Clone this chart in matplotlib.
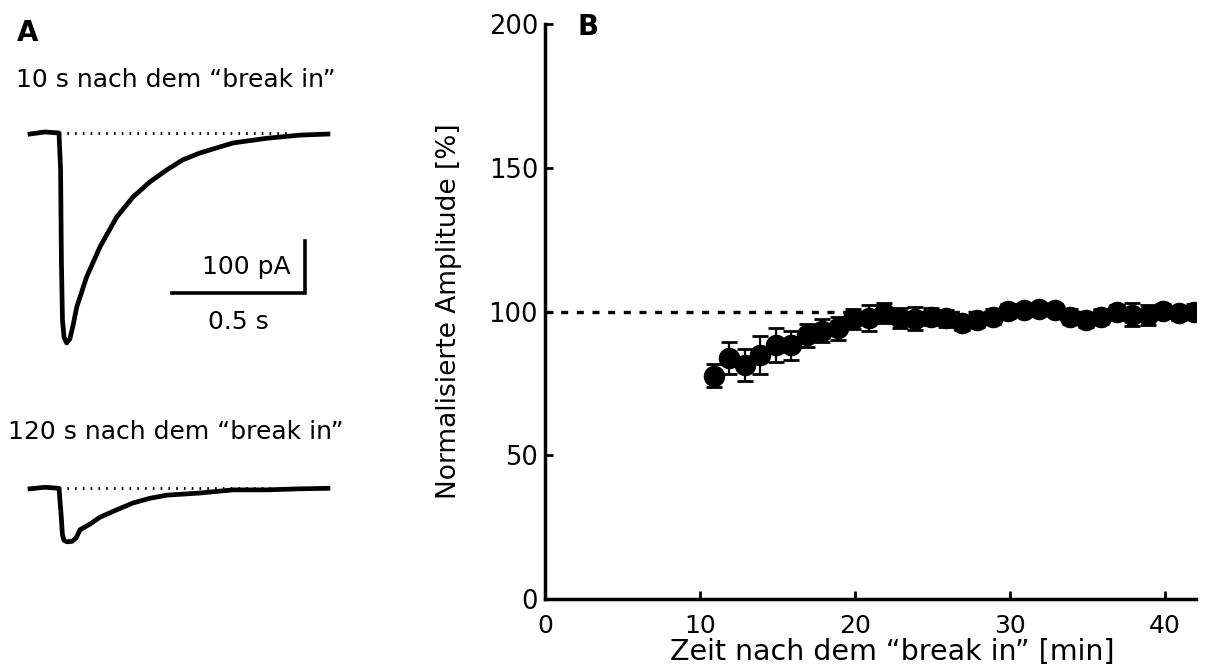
import numpy as np
import matplotlib.pyplot as plt

# panel A: traces (time in s, current in pA)
t_trace = [0.0, 0.056, 0.109, 0.115, 0.118, 0.122, 0.128, 0.138, 0.150, 0.162, 0.176,
           0.213, 0.263, 0.326, 0.387, 0.451, 0.515, 0.575, 0.639, 0.763, 0.891, 1.015, 1.120]
i_10s = [-2, 2, 0, -70, -242, -356, -389, -400, -392, -366, -331,
         -274, -217, -160, -122, -93, -70, -51, -38, -19, -10, -4, -2]
t_trace2 = [0.0, 0.056, 0.109, 0.117, 0.122, 0.128, 0.139, 0.158, 0.173, 0.188, 0.226,
            0.263, 0.326, 0.387, 0.451, 0.515, 0.639, 0.763, 0.891, 1.015, 1.120]
i_120s = [-1, 2, 0, -51, -89, -99, -102, -101, -95, -79, -68,
          -55, -41, -28, -19, -13, -9, -3, -3, -1, 0]
baseline_t = [0.11, 0.98]
scale_pA = 100
scale_s = 0.5

# panel B: normalised amplitude
zeit = [10.9, 11.9, 12.9, 13.9, 14.9, 15.9, 16.9, 17.9, 18.9, 19.9, 20.9, 21.9, 22.9, 23.9,
        24.9, 25.9, 26.9, 27.9, 28.9, 29.9, 30.9, 31.9, 32.9, 33.9, 34.9, 35.9, 36.9, 37.9,
        38.9, 39.9, 40.9, 41.9]
amp = [77.6, 83.7, 81.4, 84.9, 88.3, 88.3, 91.8, 93.3, 94.1, 97.3, 97.8, 99.5, 97.8, 97.4,
       98.2, 97.6, 95.9, 97.0, 98.2, 100.2, 100.5, 101.0, 100.5, 98.2, 97.0, 98.2, 99.7, 98.9,
       98.9, 100.2, 99.5, 100.0]
sem = [4.0, 5.6, 5.6, 6.5, 6.0, 5.0, 4.0, 4.0, 4.0, 3.5, 4.5, 3.5, 3.5, 4.0, 3.0, 3.0,
       2.5, 2.5, 2.5, 2.5, 2.0, 2.0, 2.0, 2.5, 2.5, 2.5, 2.5, 4.0, 3.5, 2.5, 2.5, 2.5]

plt.rcParams['font.family'] = 'DejaVu Sans'

W, H = 1207, 671
fig = plt.figure(figsize=(W / 100, H / 100), dpi=100)

def px_axes(x0, y0, x1, y1):
    # axes from pixel box (top-left origin)
    return fig.add_axes([x0 / W, 1 - y1 / H, (x1 - x0) / W, (y1 - y0) / H])

pps = 266.0   # px per second
ppa = 0.525   # px per pA

# trace 1
ax1 = px_axes(0, 100, 420, 360)
ax1.set_xlim(-30 / pps, 390 / pps)
ax1.set_ylim(-227 / ppa, 33 / ppa)
ax1.axis('off')
ax1.plot(baseline_t, [0, 0], color='black', lw=2, linestyle=(0, (0.6, 2.2)))
ax1.plot(t_trace, i_10s, color='black', lw=3.4, solid_joinstyle='round')
# scale bar
sx = (305 - 30) / pps
sy = -(293 - 133) / ppa
ax1.plot([sx - scale_s, sx, sx], [sy, sy, sy + scale_pA], color='black', lw=2.6,
         solid_joinstyle='miter')
ax1.text(sx - 0.055, sy + scale_pA / 2, '100 pA', ha='right', va='center', fontsize=18)
ax1.text(sx - scale_s / 2, sy - 55, '0.5 s', ha='center', va='center', fontsize=18)

# trace 2
ax2 = px_axes(0, 460, 420, 600)
ax2.set_xlim(-30 / pps, 390 / pps)
ax2.set_ylim(-111.7 / ppa, 28.3 / ppa)
ax2.axis('off')
ax2.plot(baseline_t, [0, 0], color='black', lw=2, linestyle=(0, (0.6, 2.2)))
ax2.plot(t_trace2, i_120s, color='black', lw=3.4, solid_joinstyle='round')

fig.text(17 / W, 1 - 33 / H, 'A', fontsize=20, fontweight='bold', va='center')
fig.text(16 / W, 1 - 80 / H, '10 s nach dem \u201cbreak in\u201d', fontsize=18, va='center')
fig.text(8 / W, 1 - 432 / H, '120 s nach dem \u201cbreak in\u201d', fontsize=18, va='center')

# panel B
ax = px_axes(545, 24, 1196, 599)
ax.axhline(100, color='black', lw=2.4, linestyle=(0, (2.1, 2.6)), dash_capstyle='butt', zorder=1)
ax.errorbar(zeit, amp, yerr=sem, fmt='o', color='black', ms=14.5, elinewidth=1.6,
            capsize=5.5, capthick=2, zorder=3)
ax.set_xlim(0, 42)
ax.set_ylim(0, 200)
ax.set_xticks([0, 10, 20, 30, 40])
ax.set_yticks([0, 50, 100, 150, 200])
for s in ['top', 'right']:
    ax.spines[s].set_visible(False)
for s in ['left', 'bottom']:
    ax.spines[s].set_linewidth(2.5)
ax.tick_params(direction='in', length=6, width=2)
ax.tick_params(axis='x', pad=11, labelsize=18)
ax.tick_params(axis='y', pad=5, labelsize=18.5)
ax.set_xlabel('Zeit nach dem \u201cbreak in\u201d [min]', fontsize=20.5, labelpad=3)
ax.xaxis.set_label_coords(0.533, -0.068)
ax.set_ylabel('Normalisierte Amplitude [%]', fontsize=19, labelpad=19)
fig.text(578 / W, 1 - 27 / H, 'B', fontsize=20, fontweight='bold', va='center')

fig.savefig('out.png', dpi=100)
